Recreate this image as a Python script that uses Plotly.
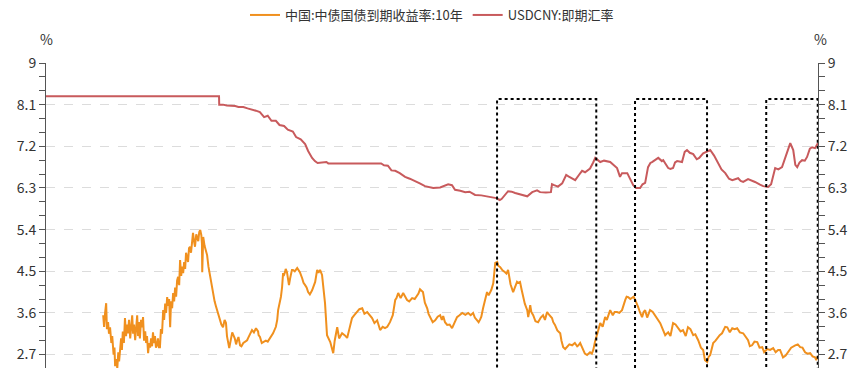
import plotly.graph_objects as go

# ---------------- data ----------------
cn10y = [
    ("2002-01-15", 3.55), ("2002-01-25", 3.30), ("2002-02-05", 3.60), ("2002-02-17", 3.81),
    ("2002-02-25", 3.25), ("2002-03-10", 3.40), ("2002-03-20", 3.15), ("2002-04-01", 3.29),
    ("2002-04-15", 2.95), ("2002-04-25", 3.10), ("2002-05-10", 2.70), ("2002-05-20", 2.85),
    ("2002-05-27", 2.45), ("2002-06-10", 2.60), ("2002-06-20", 2.40), ("2002-07-01", 2.75),
    ("2002-07-10", 2.55), ("2002-07-20", 2.86), ("2002-08-01", 3.05), ("2002-08-10", 2.80),
    ("2002-08-20", 3.20), ("2002-09-01", 2.95), ("2002-09-13", 3.49), ("2002-09-25", 3.10),
    ("2002-10-05", 3.35), ("2002-10-16", 3.16), ("2002-10-28", 3.45), ("2002-11-10", 3.05),
    ("2002-11-20", 3.40), ("2002-12-02", 3.55), ("2002-12-12", 3.15), ("2002-12-22", 3.35),
    ("2003-01-04", 3.01), ("2003-01-15", 3.30), ("2003-01-26", 3.55), ("2003-02-05", 3.10),
    ("2003-02-15", 3.40), ("2003-02-25", 3.05), ("2003-03-10", 3.45), ("2003-03-21", 3.29),
    ("2003-04-01", 3.51), ("2003-04-12", 3.00), ("2003-04-25", 3.20), ("2003-05-05", 2.95),
    ("2003-05-15", 3.10), ("2003-05-27", 2.73), ("2003-06-07", 2.95), ("2003-06-18", 2.85),
    ("2003-06-29", 3.05), ("2003-07-10", 2.88), ("2003-07-20", 3.18), ("2003-08-01", 2.95),
    ("2003-08-11", 3.10), ("2003-08-22", 2.85), ("2003-09-02", 2.90), ("2003-09-13", 3.05),
    ("2003-09-24", 2.86), ("2003-10-05", 2.86), ("2003-10-16", 3.25), ("2003-10-28", 3.15),
    ("2003-11-10", 3.66), ("2003-11-20", 3.45), ("2003-12-02", 3.80), ("2003-12-12", 3.60),
    ("2003-12-24", 3.94), ("2004-01-05", 3.75), ("2004-01-15", 3.90), ("2004-01-26", 3.29),
    ("2004-02-05", 3.85), ("2004-02-17", 3.70), ("2004-02-28", 4.03), ("2004-03-10", 3.85),
    ("2004-03-21", 4.15), ("2004-04-01", 3.95), ("2004-04-12", 4.30), ("2004-04-23", 4.38),
    ("2004-05-05", 4.20), ("2004-05-15", 4.74), ("2004-05-27", 4.40), ("2004-06-07", 4.60),
    ("2004-06-18", 4.46), ("2004-06-29", 4.70), ("2004-07-10", 4.55), ("2004-07-20", 4.90),
    ("2004-07-31", 4.81), ("2004-08-11", 4.70), ("2004-08-22", 5.00), ("2004-09-02", 5.03),
    ("2004-09-13", 4.90), ("2004-09-24", 5.20), ("2004-10-05", 5.33), ("2004-10-16", 5.15),
    ("2004-10-27", 5.03), ("2004-11-10", 5.30), ("2004-11-21", 5.24), ("2004-12-02", 5.15),
    ("2004-12-13", 5.35), ("2004-12-24", 5.39), ("2005-01-05", 5.28), ("2005-01-12", 5.10),
    ("2005-01-15", 4.48), ("2005-01-18", 5.20), ("2005-01-26", 5.24), ("2005-02-10", 5.05),
    ("2005-02-25", 4.95), ("2005-03-10", 4.85), ("2005-03-25", 4.60), ("2005-04-12", 4.38),
    ("2005-04-25", 4.20), ("2005-05-15", 4.03), ("2005-06-01", 3.85), ("2005-06-15", 3.75),
    ("2005-06-29", 3.66), ("2005-07-15", 3.55), ("2005-07-31", 3.49), ("2005-08-15", 3.35),
    ("2005-09-02", 3.29), ("2005-09-20", 3.45), ("2005-10-05", 3.38), ("2005-10-16", 3.10),
    ("2005-11-10", 2.84), ("2005-11-25", 3.00), ("2005-12-13", 3.18), ("2006-01-10", 3.05),
    ("2006-01-25", 2.92), ("2006-02-06", 3.01), ("2006-02-20", 3.08), ("2006-03-10", 2.90),
    ("2006-03-25", 2.88), ("2006-04-15", 2.95), ("2006-05-05", 2.98), ("2006-05-27", 3.01),
    ("2006-06-05", 3.05), ("2006-06-20", 3.10), ("2006-07-20", 3.23), ("2006-08-10", 3.18),
    ("2006-09-02", 3.27), ("2006-09-25", 3.20), ("2006-10-01", 3.12), ("2006-10-16", 3.08),
    ("2006-11-05", 2.95), ("2006-11-21", 2.97), ("2006-12-20", 3.00), ("2007-01-10", 2.98),
    ("2007-02-06", 3.06), ("2007-03-10", 3.16), ("2007-04-10", 3.30), ("2007-04-25", 3.45),
    ("2007-05-05", 3.66), ("2007-06-05", 3.95), ("2007-06-18", 4.16), ("2007-06-29", 4.46),
    ("2007-07-05", 4.40), ("2007-07-20", 4.48), ("2007-07-28", 4.55), ("2007-08-11", 4.48),
    ("2007-08-22", 4.27), ("2007-09-02", 4.20), ("2007-09-15", 4.35), ("2007-10-05", 4.53),
    ("2007-10-16", 4.53), ("2007-11-05", 4.50), ("2007-12-02", 4.57), ("2008-01-01", 4.48),
    ("2008-01-26", 4.35), ("2008-02-10", 4.25), ("2008-02-28", 4.20), ("2008-03-15", 4.15),
    ("2008-04-01", 4.05), ("2008-04-20", 4.00), ("2008-05-15", 4.09), ("2008-06-01", 4.20),
    ("2008-06-18", 4.27), ("2008-07-10", 4.53), ("2008-07-25", 4.47), ("2008-08-11", 4.53),
    ("2008-09-02", 4.42), ("2008-10-05", 3.81), ("2008-10-27", 3.12), ("2008-12-02", 2.97),
    ("2009-01-04", 2.73), ("2009-01-20", 3.00), ("2009-02-17", 3.29), ("2009-03-10", 3.05),
    ("2009-04-12", 3.16), ("2009-05-10", 3.12), ("2009-06-07", 3.06), ("2009-07-01", 3.25),
    ("2009-07-31", 3.49), ("2009-08-25", 3.55), ("2009-09-24", 3.62), ("2009-10-20", 3.68),
    ("2009-11-21", 3.70), ("2009-12-15", 3.58), ("2010-01-15", 3.62), ("2010-02-10", 3.55),
    ("2010-03-10", 3.49), ("2010-04-05", 3.38), ("2010-05-05", 3.44), ("2010-06-07", 3.23),
    ("2010-07-05", 3.30), ("2010-07-31", 3.27), ("2010-08-25", 3.30), ("2010-09-24", 3.40),
    ("2010-10-25", 3.55), ("2010-11-21", 3.88), ("2010-12-05", 3.92), ("2010-12-24", 4.03),
    ("2011-01-20", 3.92), ("2011-02-17", 4.03), ("2011-03-10", 3.95), ("2011-04-01", 3.88),
    ("2011-04-25", 3.85), ("2011-05-27", 3.92), ("2011-06-25", 3.90), ("2011-07-20", 3.98),
    ("2011-08-05", 4.02), ("2011-08-22", 4.11), ("2011-09-24", 4.05), ("2011-10-15", 3.82),
    ("2011-11-10", 3.70), ("2011-11-25", 3.58), ("2011-12-13", 3.51), ("2012-01-10", 3.40),
    ("2012-02-06", 3.44), ("2012-03-05", 3.52), ("2012-04-01", 3.55), ("2012-04-20", 3.45),
    ("2012-05-05", 3.53), ("2012-05-25", 3.40), ("2012-06-18", 3.34), ("2012-07-15", 3.35),
    ("2012-08-11", 3.27), ("2012-09-05", 3.40), ("2012-10-05", 3.51), ("2012-11-01", 3.55),
    ("2012-12-02", 3.60), ("2013-01-05", 3.56), ("2013-02-06", 3.60), ("2013-03-05", 3.55),
    ("2013-04-01", 3.60), ("2013-04-20", 3.50), ("2013-05-15", 3.44), ("2013-06-01", 3.40),
    ("2013-06-18", 3.46), ("2013-07-01", 3.52), ("2013-07-20", 3.70), ("2013-08-10", 3.85),
    ("2013-09-02", 4.05), ("2013-09-20", 3.98), ("2013-10-05", 4.03), ("2013-10-20", 4.10),
    ("2013-11-10", 4.24), ("2013-11-25", 4.55), ("2013-12-02", 4.68), ("2013-12-24", 4.70),
    ("2014-01-05", 4.62), ("2014-01-26", 4.59), ("2014-02-20", 4.52), ("2014-03-21", 4.48),
    ("2014-04-05", 4.45), ("2014-04-23", 4.53), ("2014-05-20", 4.22), ("2014-06-18", 4.05),
    ("2014-07-10", 4.15), ("2014-07-31", 4.27), ("2014-08-10", 4.25), ("2014-09-02", 4.27),
    ("2014-09-20", 4.10), ("2014-10-05", 3.94), ("2014-10-25", 3.80), ("2014-11-21", 3.66),
    ("2014-12-02", 3.51), ("2014-12-12", 3.62), ("2014-12-24", 3.77), ("2015-01-05", 3.62),
    ("2015-01-26", 3.55), ("2015-02-20", 3.42), ("2015-03-21", 3.40), ("2015-04-20", 3.50),
    ("2015-05-15", 3.55), ("2015-06-05", 3.45), ("2015-06-29", 3.62), ("2015-07-25", 3.55),
    ("2015-08-22", 3.49), ("2015-09-05", 3.40), ("2015-09-24", 3.34), ("2015-10-20", 3.22),
    ("2015-11-21", 3.16), ("2015-12-05", 3.00), ("2015-12-24", 2.86), ("2016-01-15", 2.82),
    ("2016-02-06", 2.86), ("2016-03-01", 2.92), ("2016-04-01", 2.90), ("2016-05-01", 2.95),
    ("2016-05-27", 2.88), ("2016-06-10", 2.90), ("2016-06-29", 2.95), ("2016-07-15", 2.88),
    ("2016-07-31", 2.80), ("2016-08-20", 2.72), ("2016-09-13", 2.69), ("2016-10-01", 2.73),
    ("2016-10-16", 2.75), ("2016-11-05", 2.72), ("2016-11-21", 2.80), ("2016-12-10", 2.98),
    ("2017-01-04", 3.16), ("2017-01-20", 3.25), ("2017-02-06", 3.38), ("2017-03-05", 3.30),
    ("2017-04-01", 3.51), ("2017-04-20", 3.45), ("2017-05-27", 3.66), ("2017-06-25", 3.55),
    ("2017-07-15", 3.62), ("2017-08-11", 3.62), ("2017-09-05", 3.60), ("2017-10-05", 3.66),
    ("2017-10-25", 3.80), ("2017-11-10", 3.88), ("2017-11-25", 3.95), ("2017-12-13", 3.94),
    ("2018-01-05", 3.90), ("2018-01-26", 3.92), ("2018-02-10", 3.95), ("2018-02-28", 3.88),
    ("2018-03-15", 3.82), ("2018-04-01", 3.73), ("2018-04-20", 3.62), ("2018-05-15", 3.51),
    ("2018-06-01", 3.62), ("2018-06-18", 3.66), ("2018-07-10", 3.50), ("2018-08-11", 3.66),
    ("2018-09-10", 3.62), ("2018-10-05", 3.55), ("2018-11-05", 3.45), ("2018-12-02", 3.38),
    ("2019-01-05", 3.22), ("2019-01-26", 3.12), ("2019-02-10", 3.15), ("2019-02-28", 3.18),
    ("2019-03-25", 3.10), ("2019-04-23", 3.38), ("2019-05-20", 3.35), ("2019-06-18", 3.27),
    ("2019-07-15", 3.20), ("2019-08-11", 3.23), ("2019-09-10", 3.10), ("2019-10-05", 3.29),
    ("2019-11-01", 3.25), ("2019-12-02", 3.12), ("2019-12-25", 3.14), ("2020-01-26", 3.01),
    ("2020-02-25", 2.85), ("2020-03-21", 2.80), ("2020-04-10", 2.58), ("2020-05-05", 2.54),
    ("2020-05-20", 2.65), ("2020-06-07", 2.69), ("2020-06-25", 2.85), ("2020-07-10", 2.95),
    ("2020-08-05", 3.00), ("2020-09-02", 3.08), ("2020-09-20", 3.12), ("2020-10-16", 3.16),
    ("2020-11-20", 3.30), ("2020-12-13", 3.29), ("2021-01-10", 3.18), ("2021-02-06", 3.27),
    ("2021-03-05", 3.25), ("2021-04-01", 3.27), ("2021-05-01", 3.18), ("2021-06-07", 3.16),
    ("2021-07-05", 3.08), ("2021-07-31", 3.01), ("2021-08-20", 2.88), ("2021-09-13", 2.90),
    ("2021-10-10", 2.98), ("2021-11-10", 2.97), ("2021-12-05", 2.85), ("2022-01-04", 2.86),
    ("2022-01-25", 2.75), ("2022-02-28", 2.82), ("2022-04-01", 2.80), ("2022-05-05", 2.84),
    ("2022-06-01", 2.75), ("2022-06-29", 2.80), ("2022-07-20", 2.80), ("2022-08-22", 2.64),
    ("2022-09-20", 2.68), ("2022-10-16", 2.75), ("2022-11-20", 2.85), ("2023-01-04", 2.90),
    ("2023-02-01", 2.92), ("2023-02-28", 2.86), ("2023-03-25", 2.85), ("2023-04-23", 2.75),
    ("2023-05-20", 2.72), ("2023-06-18", 2.73), ("2023-07-15", 2.66), ("2023-08-11", 2.64),
    ("2023-08-25", 2.58), ("2023-09-13", 2.67),
]

usdcny = [
    ("2000-04-22", 8.28), ("2005-07-20", 8.28), ("2005-07-22", 8.10), ("2005-09-01", 8.10),
    ("2005-10-15", 8.08), ("2005-12-01", 8.08), ("2006-01-15", 8.07), ("2006-02-20", 8.05),
    ("2006-04-15", 8.05), ("2006-06-01", 8.02), ("2006-07-15", 8.00), ("2006-09-01", 7.97),
    ("2006-10-15", 7.94), ("2006-12-01", 7.83), ("2007-01-10", 7.86), ("2007-02-20", 7.75),
    ("2007-04-10", 7.75), ("2007-05-20", 7.66), ("2007-07-10", 7.64), ("2007-08-20", 7.56),
    ("2007-10-15", 7.52), ("2007-11-20", 7.40), ("2008-01-10", 7.35), ("2008-02-28", 7.25),
    ("2008-04-01", 7.10), ("2008-05-15", 6.95), ("2008-06-15", 6.88), ("2008-07-15", 6.84),
    ("2008-10-20", 6.86), ("2008-11-10", 6.83), ("2009-06-01", 6.83), ("2010-06-18", 6.83),
    ("2010-07-20", 6.79), ("2010-09-01", 6.78), ("2010-10-10", 6.68), ("2010-11-21", 6.67),
    ("2011-01-10", 6.62), ("2011-03-10", 6.54), ("2011-05-01", 6.50), ("2011-06-29", 6.45),
    ("2011-08-20", 6.40), ("2011-10-16", 6.34), ("2011-11-20", 6.33), ("2012-01-15", 6.30),
    ("2012-04-01", 6.31), ("2012-06-29", 6.38), ("2012-08-10", 6.36), ("2012-09-13", 6.26),
    ("2012-11-10", 6.24), ("2013-01-04", 6.21), ("2013-02-20", 6.22), ("2013-04-23", 6.15),
    ("2013-07-01", 6.14), ("2013-10-05", 6.10), ("2013-12-13", 6.08), ("2014-01-20", 6.04),
    ("2014-02-10", 6.06), ("2014-04-23", 6.23), ("2014-06-01", 6.22), ("2014-07-10", 6.19),
    ("2014-09-15", 6.15), ("2014-11-21", 6.12), ("2015-01-15", 6.21), ("2015-03-10", 6.25),
    ("2015-04-12", 6.21), ("2015-06-15", 6.20), ("2015-08-10", 6.21), ("2015-08-22", 6.38),
    ("2015-09-15", 6.36), ("2015-10-27", 6.33), ("2015-12-13", 6.40), ("2016-01-26", 6.58),
    ("2016-02-20", 6.55), ("2016-03-10", 6.53), ("2016-05-05", 6.47), ("2016-06-15", 6.58),
    ("2016-07-20", 6.67), ("2016-08-22", 6.64), ("2016-09-15", 6.67), ("2016-10-16", 6.72),
    ("2016-11-20", 6.85), ("2016-12-13", 6.95), ("2017-02-06", 6.86), ("2017-03-20", 6.89),
    ("2017-05-27", 6.86), ("2017-07-10", 6.78), ("2017-08-11", 6.73), ("2017-09-13", 6.54),
    ("2017-10-05", 6.62), ("2017-12-02", 6.62), ("2018-02-06", 6.36), ("2018-03-10", 6.30),
    ("2018-04-23", 6.30), ("2018-05-20", 6.38), ("2018-06-18", 6.41), ("2018-07-20", 6.75),
    ("2018-08-15", 6.84), ("2018-09-02", 6.86), ("2018-11-10", 6.95), ("2018-12-20", 6.88),
    ("2019-01-04", 6.90), ("2019-02-28", 6.73), ("2019-03-25", 6.71), ("2019-04-23", 6.73),
    ("2019-05-15", 6.85), ("2019-06-07", 6.88), ("2019-07-31", 6.86), ("2019-08-30", 7.08),
    ("2019-09-24", 7.12), ("2019-10-25", 7.06), ("2019-12-02", 7.03), ("2020-01-10", 6.92),
    ("2020-02-06", 6.95), ("2020-03-21", 7.05), ("2020-05-01", 7.08), ("2020-06-07", 7.12),
    ("2020-07-20", 7.00), ("2020-09-02", 6.84), ("2020-10-10", 6.70), ("2020-11-21", 6.62),
    ("2021-01-01", 6.50), ("2021-02-06", 6.47), ("2021-03-10", 6.49), ("2021-04-12", 6.51),
    ("2021-05-10", 6.45), ("2021-06-07", 6.43), ("2021-07-31", 6.49), ("2021-09-10", 6.46),
    ("2021-10-16", 6.43), ("2021-12-10", 6.37), ("2022-01-15", 6.34), ("2022-03-10", 6.32),
    ("2022-04-12", 6.38), ("2022-05-27", 6.73), ("2022-07-01", 6.70), ("2022-08-11", 6.75),
    ("2022-09-10", 6.92), ("2022-10-05", 7.05), ("2022-11-10", 7.27), ("2022-12-13", 7.12),
    ("2023-01-05", 6.80), ("2023-01-26", 6.75), ("2023-02-20", 6.85), ("2023-03-21", 6.90),
    ("2023-04-20", 6.89), ("2023-05-15", 6.97), ("2023-06-15", 7.15), ("2023-07-10", 7.18),
    ("2023-08-11", 7.16), ("2023-09-13", 7.27),
]

series_names = ["中国:中债国债到期收益率:10年", "USDCNY:即期汇率"]
y_tick_values = [2.7, 3.6, 4.5, 5.4, 6.3, 7.2, 8.1, 9.0]
y_tick_labels = ["2.7", "3.6", "4.5", "5.4", "6.3", "7.2", "8.1", "9"]
box_starts = ["2013-12-22", "2018-02-26", "2022-02-17"]
box_ends = ["2016-12-24", "2020-05-03", "2023-09-10"]
box_top = 8.22
x_range = ["2000-04-22", "2023-09-13"]
y_range = [2.41, 9.0]

# ---------------- figure ----------------
cn_dates, cn_vals = zip(*sorted(cn10y))
fx_dates, fx_vals = zip(*sorted(usdcny))

ORANGE = "#F0901E"
RED = "#C85A5C"
AXIS = "#555555"
FONT = "Noto Sans CJK SC, Noto Sans, sans-serif"

fig = go.Figure()
fig.add_trace(go.Scatter(x=list(cn_dates), y=list(cn_vals), name=series_names[0],
                         mode="lines", line=dict(color=ORANGE, width=2), yaxis="y"))
fig.add_trace(go.Scatter(x=list(fx_dates), y=list(fx_vals), name=series_names[1],
                         mode="lines", line=dict(color=RED, width=2), yaxis="y2"))

for s, e in zip(box_starts, box_ends):
    fig.add_shape(type="rect", xref="x", yref="y", x0=s, x1=e, y0=1.0, y1=box_top,
                  line=dict(color="black", width=2, dash="dot"),
                  fillcolor="rgba(0,0,0,0)", layer="above")

axis_common = dict(
    range=y_range, tickmode="array", tickvals=y_tick_values, ticktext=y_tick_labels,
    ticks="outside", ticklen=6, tickcolor=AXIS, showline=True, linecolor=AXIS, linewidth=1,
    zeroline=False, tickfont=dict(size=14, color="#333333"),
    minor=dict(tickmode="linear", tick0=0, dtick=0.3, ticks="outside", ticklen=6,
               tickcolor=AXIS, showgrid=False),
)

fig.update_layout(
    width=865, height=368,
    margin=dict(l=46, r=47, t=63, b=0, pad=0),
    paper_bgcolor="white", plot_bgcolor="white",
    font=dict(family=FONT, color="#333333"),
    showlegend=True,
    legend=dict(orientation="h", x=0.5, xanchor="center", y=1.0, yref="container",
                yanchor="top", font=dict(size=13, color="#333333"),
                bgcolor="rgba(0,0,0,0)", itemwidth=30),
    xaxis=dict(type="date", range=x_range, showgrid=False, showline=False,
               showticklabels=False, ticks="", zeroline=False),
    yaxis=dict(**axis_common, side="left", showgrid=True, gridcolor="#dcdcdc",
               gridwidth=1, griddash="dash"),
    yaxis2=dict(**axis_common, side="right", overlaying="y", showgrid=False),
    annotations=[
        dict(text="%", xref="paper", yref="paper", x=0, y=1, xanchor="center",
             yanchor="bottom", yshift=12, showarrow=False, font=dict(size=14, color="#333333")),
        dict(text="%", xref="paper", yref="paper", x=1, y=1, xanchor="center",
             yanchor="bottom", yshift=12, xshift=2, showarrow=False,
             font=dict(size=14, color="#333333")),
    ],
)

fig.write_html("out.html", config={"displayModeBar": False},
               post_script="document.body.style.margin='0';")
